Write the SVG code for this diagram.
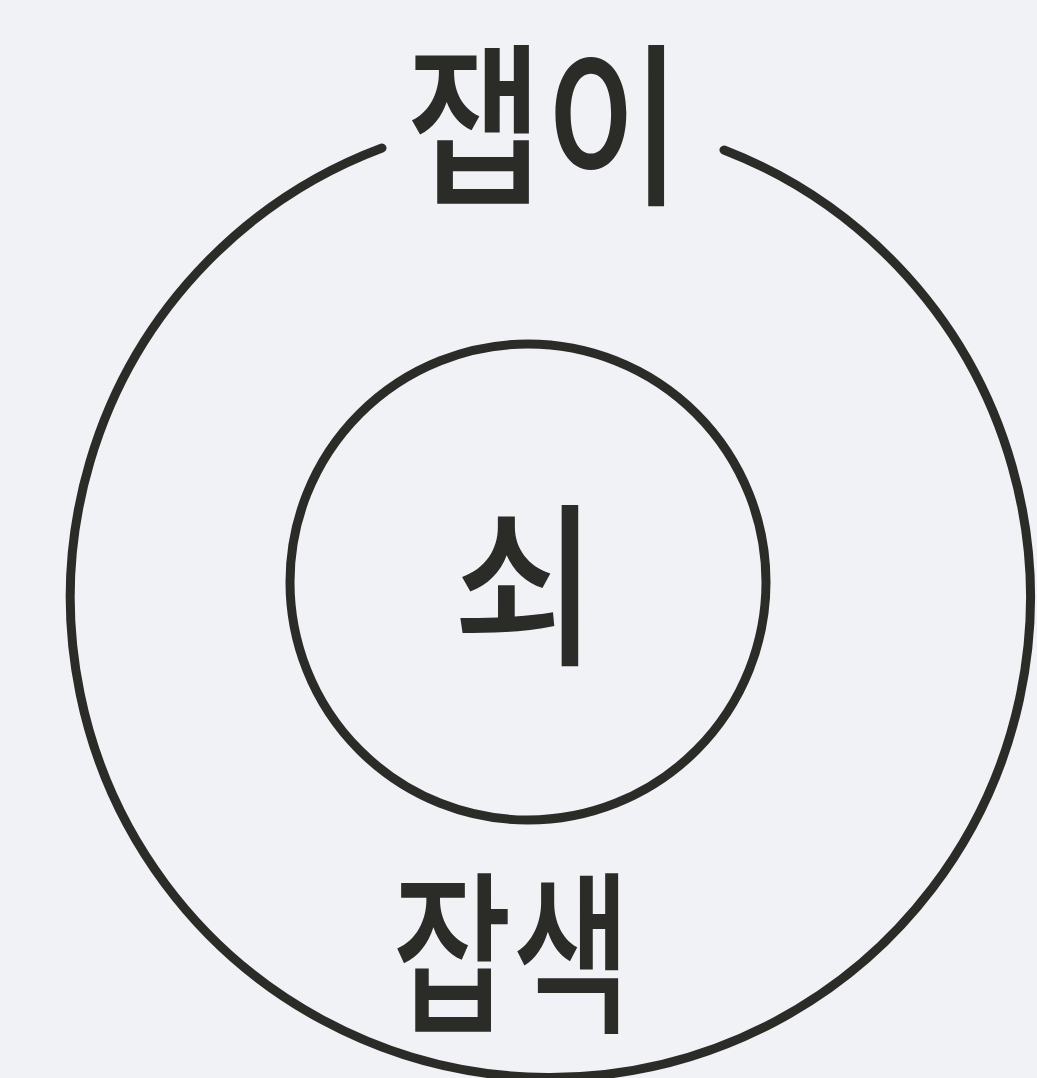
<svg xmlns="http://www.w3.org/2000/svg" width="1037" height="1078" viewBox="0 0 1037 1078">
<style>
.ring{fill:none;stroke:#2b2b28;stroke-width:9;stroke-linecap:round}
.lbl{font-family:"Noto Sans CJK KR","Noto Sans",sans-serif;font-size:175px;font-weight:500;fill:#2b2b28;text-anchor:middle}
</style>
<rect width="1037" height="1078" fill="#f1f2f6"/>
<g id="connectors"></g>
<g id="outer">
<path class="ring" d="M 382 148 A 480 480 0 1 0 724 150"/>
</g>
<g id="top-label">
<text class="lbl" transform="translate(544,191) scale(0.86,1)">잽이</text>
</g>
<g id="inner">
<circle class="ring" cx="528" cy="582" r="238"/>
</g>
<g id="center-label">
<text class="lbl" transform="translate(525,651) scale(0.9,1)">쇠</text>
</g>
<g id="bottom-label">
<text class="lbl" transform="translate(512,1019) scale(0.74,1)">잡색</text>
</g>
</svg>
